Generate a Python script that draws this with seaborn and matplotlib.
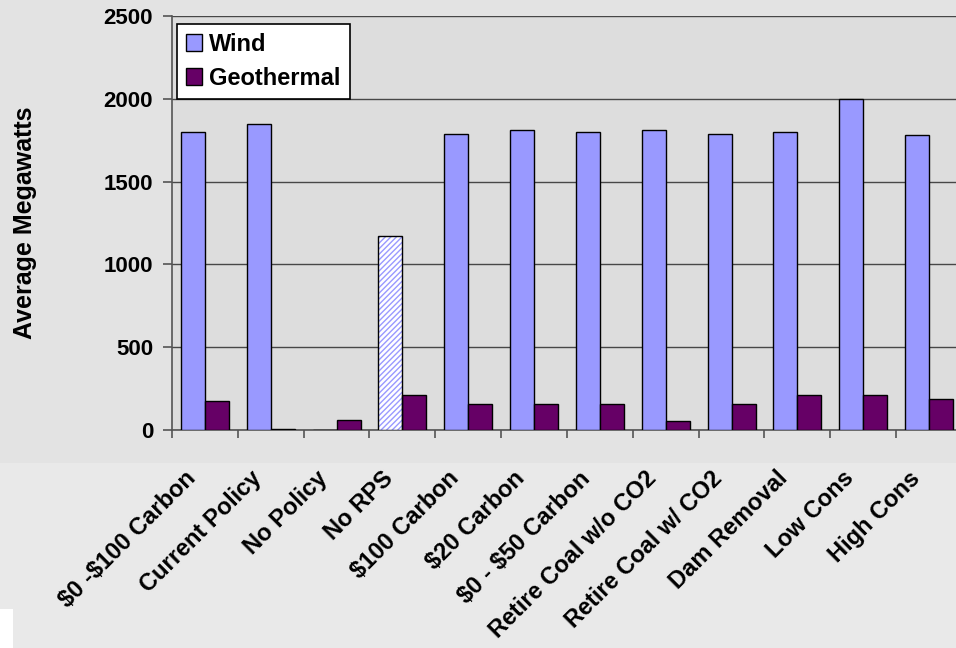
import matplotlib
matplotlib.use("Agg")
import matplotlib.pyplot as plt
from matplotlib.patches import Rectangle
from matplotlib.transforms import ScaledTranslation
import seaborn as sns
import pandas as pd

scenarios = ["$0 -$100 Carbon", "Current Policy", "No Policy", "No RPS",
             "$100 Carbon", "$20 Carbon", "$0 - $50 Carbon", "Retire Coal w/o CO2",
             "Retire Coal w/ CO2", "Dam Removal", "Low Cons", "High Cons"]
wind = [1800, 1850, 0, 1170, 1790, 1810, 1800, 1810, 1790, 1800, 2000, 1780]
geothermal = [175, 5, 60, 210, 155, 155, 155, 55, 155, 210, 210, 190]
sources = ["Wind", "Geothermal"]
colors = {"Wind": "#9999FF", "Geothermal": "#660066"}
y_ticks = [0, 500, 1000, 1500, 2000, 2500]

df = pd.DataFrame({
    "Scenario": scenarios * 2,
    "Average Megawatts": wind + geothermal,
    "Source": [sources[0]] * len(scenarios) + [sources[1]] * len(scenarios),
})

sns.set_theme(style="white")
plt.rcParams["font.family"] = ["Liberation Sans", "DejaVu Sans"]
plt.rcParams["font.weight"] = "bold"
plt.rcParams["text.color"] = "black"
plt.rcParams["axes.labelcolor"] = "black"

fig = plt.figure(figsize=(9.56, 6.48), dpi=100, facecolor="#e9e9e9")
# darker chart area behind the plot, lighter slide below it
fig.patches.append(Rectangle((0, 1 - 463 / 648), 1, 463 / 648, transform=fig.transFigure,
                             facecolor="#e3e3e3", edgecolor="none", zorder=-2))
fig.patches.append(Rectangle((0, 0), 13 / 956, 39 / 648, transform=fig.transFigure,
                             facecolor="white", edgecolor="none", zorder=-1))

ax = fig.add_axes([172 / 956, 218 / 648, 790 / 956, 414 / 648])
ax.set_zorder(1)
ax.set_facecolor("#dddddd")

sns.barplot(data=df, x="Scenario", y="Average Megawatts", hue="Source",
            hue_order=sources, palette=colors, width=0.73, saturation=1,
            edgecolor="black", linewidth=1, ax=ax, zorder=3)

# "No RPS" wind bar is drawn hatched on a white face
rps = scenarios.index("No RPS")
bar = ax.containers[0][rps]
bar.set_facecolor("white")
bar.set_hatch("//////")
bar.set_edgecolor(colors["Wind"])
bar.set_linewidth(0)
ax.add_patch(Rectangle((bar.get_x(), bar.get_y()), bar.get_width(), bar.get_height(),
                       fill=False, edgecolor="black", linewidth=1, zorder=4))

ax.set_ylim(0, 2500)
ax.set_xlim(-0.5, len(scenarios) - 0.5)
ax.set_yticks(y_ticks)
ax.yaxis.grid(True, color="#474747", linewidth=1)
ax.set_axisbelow(True)

for side in ["top", "right"]:
    ax.spines[side].set_visible(False)
for side in ["left", "bottom"]:
    ax.spines[side].set_color("#555555")
    ax.spines[side].set_linewidth(1.2)

ax.tick_params(axis="y", which="major", left=True, length=6.5, width=1.2,
               color="#555555", labelcolor="black", labelsize=16, pad=7)
ax.tick_params(axis="x", which="major", bottom=False, length=0, pad=26.5,
               labelcolor="black")
ax.set_xticks([i + 0.5 for i in range(-1, len(scenarios))], minor=True)
ax.tick_params(axis="x", which="minor", bottom=True, length=6, width=1.2, color="#555555")

shift = ScaledTranslation(-21 / 100, 0, fig.dpi_scale_trans)
for lab in ax.get_xticklabels():
    lab.set_parse_math(False)
    lab.set_rotation(45)
    lab.set_ha("right")
    lab.set_va("top")
    lab.set_rotation_mode("anchor")
    lab.set_fontsize(17)
    lab.set_fontweight("bold")
    lab.set_color("black")
    lab.set_transform(lab.get_transform() + shift)
for lab in ax.get_yticklabels():
    lab.set_fontweight("bold")
    lab.set_color("black")

ax.set_xlabel("")
ax.set_ylabel("Average Megawatts", fontsize=18, fontweight="bold", color="black")
ax.yaxis.set_label_coords(-0.171, 0.5)

handles, labels = ax.get_legend_handles_labels()
leg = ax.legend(handles, labels, loc="upper left", bbox_to_anchor=(0.006, 0.9807),
                borderaxespad=0, frameon=True, fancybox=False, shadow=False,
                prop={"size": 17, "weight": "bold"}, handlelength=0.7,
                handleheight=0.7, handletextpad=0.3, labelspacing=0.45,
                borderpad=0.38, facecolor="white", edgecolor="black", framealpha=1,
                labelcolor="black")
leg.get_frame().set_linewidth(1.2)
leg.set_zorder(5)

fig.savefig("out.png", dpi=100, facecolor=fig.get_facecolor())
